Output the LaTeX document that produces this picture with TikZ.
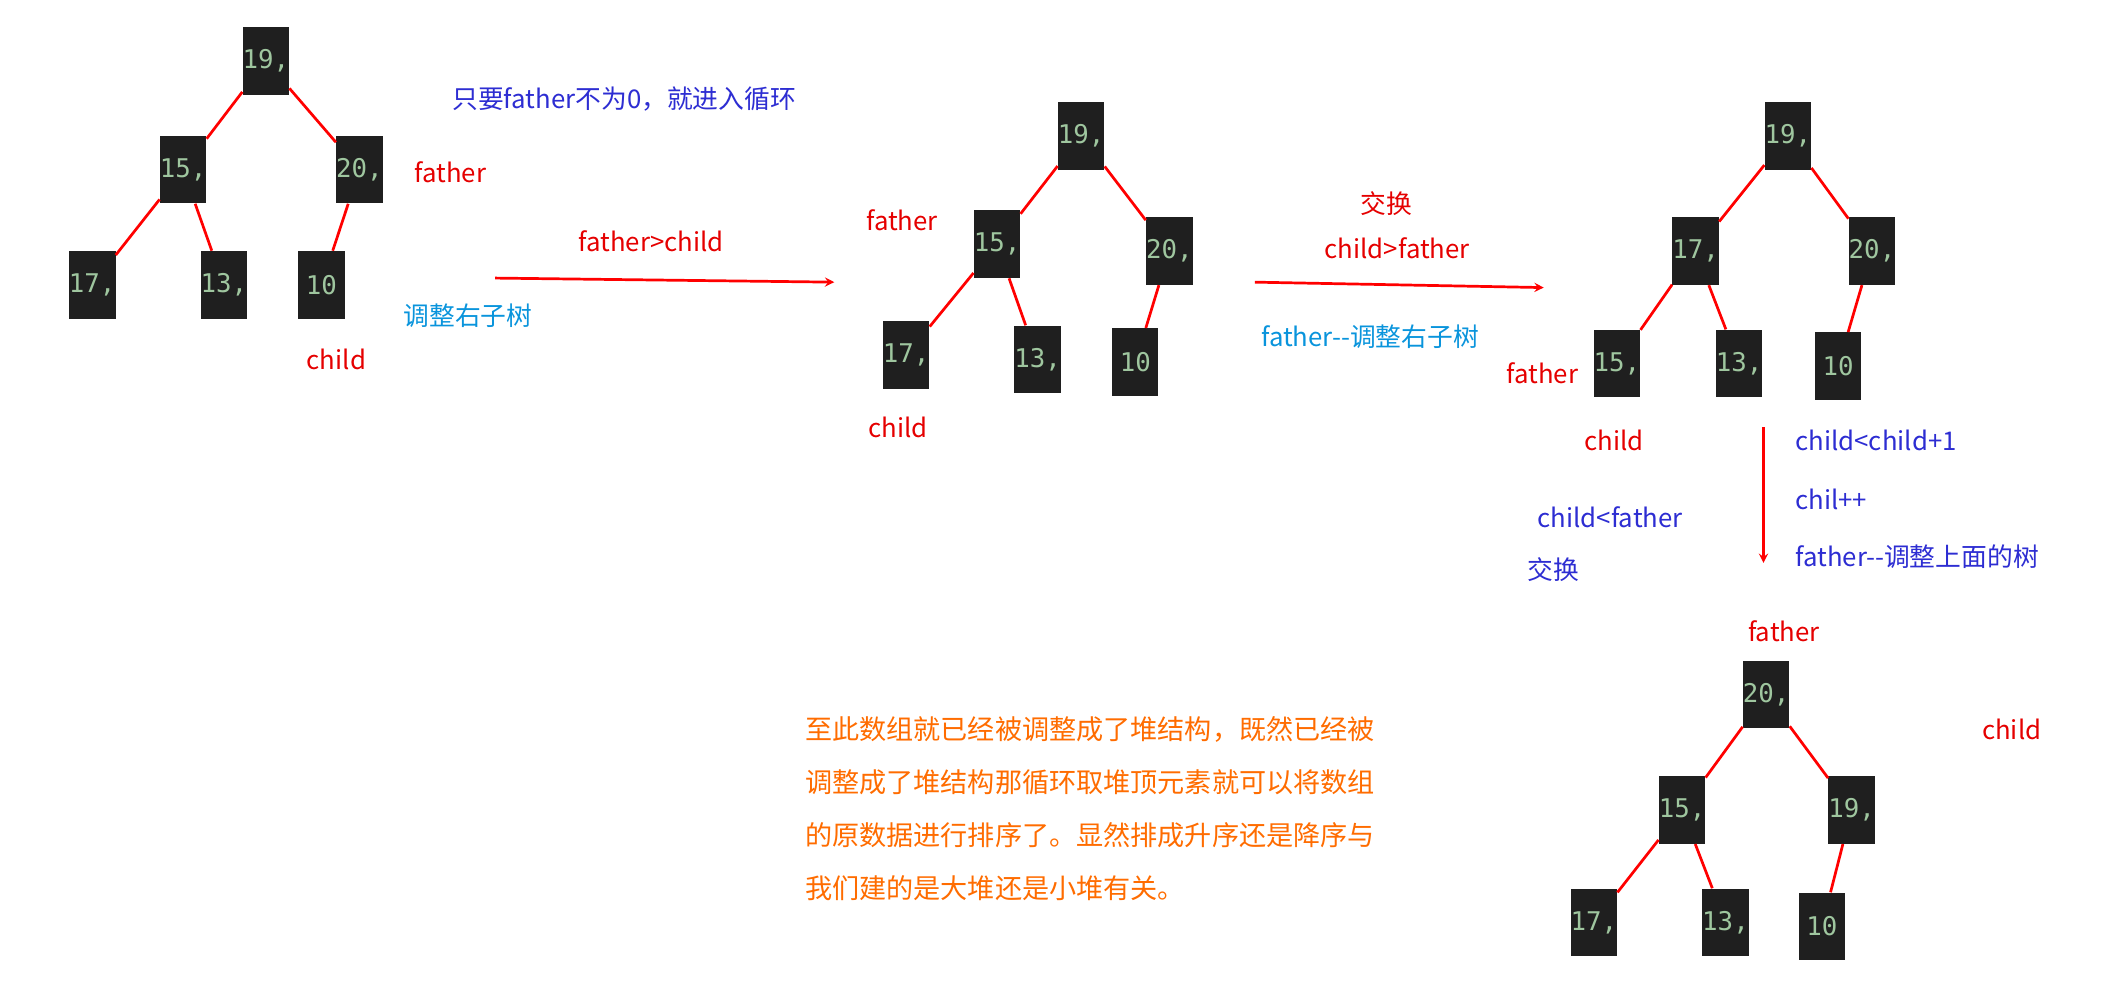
\documentclass[tikz,border=0pt]{standalone}
\usepackage{fontspec}
\setmainfont{Noto Sans CJK SC}
\newfontfamily\numf{DejaVu Sans Mono}
\begin{document}
\begin{tikzpicture}[x=1pt,y=-1pt,
 nb/.style={fill=black!88,text=green!25!gray!60!white,font=\numf\fontsize{19}{19}\selectfont,minimum width=34pt,minimum height=50pt,inner sep=0pt},
 ed/.style={red,line width=2pt},
 rl/.style={red!90!black,font=\fontsize{19}{19}\selectfont},
 bl/.style={text=blue!65!gray,font=\fontsize{19}{19}\selectfont},
 cl/.style={text=cyan!80!blue,font=\fontsize{19}{19}\selectfont},
 ar/.style={red,line width=2pt,-stealth}]
\useasboundingbox (0,0) rectangle (1568,733);
% tree 1
\node[nb] (a1) at (196,45) {19,};
\node[nb] (a2) at (135,125) {15,};
\node[nb] (a3) at (265,125) {20,};
\node[nb] (a4) at (68,210) {17,};
\node[nb] (a5) at (165,210) {13,};
\node[nb] (a6) at (237,210) {10};
\draw[ed] (a1)--(a2) (a1)--(a3) (a2)--(a4) (a2)--(a5) (a3)--(a6);
\node[rl] (t1) at (332,127) {father};
\node[rl] (t2) at (248,265) {child};
\node[cl] (t3) at (345,233) {调整右子树};
\node[bl,anchor=west] (t4) at (330,73) {只要father不为0，就进入循环};
\coordinate (p1) at (365,205); \coordinate (p2) at (615,208);
\draw[ar] (p1)--(p2);
\node[rl] (t5) at (480,178) {father>child};
% tree 2
\node[nb] (b1) at (797,100) {19,};
\node[nb] (b2) at (735,180) {15,};
\node[nb] (b3) at (862,185) {20,};
\node[nb] (b4) at (668,262) {17,};
\node[nb] (b5) at (765,265) {13,};
\node[nb] (b6) at (837,267) {10};
\draw[ed] (b1)--(b2) (b1)--(b3) (b2)--(b4) (b2)--(b5) (b3)--(b6);
\node[rl] (u1) at (665,162) {father};
\node[rl] (u2) at (662,315) {child};
\coordinate (q1) at (925,208); \coordinate (q2) at (1138,212);
\draw[ar] (q1)--(q2);
\node[rl] (u3) at (1022,150) {交换};
\node[rl] (u4) at (1030,183) {child>father};
\node[cl] (u5) at (1010,248) {father{-}{-}调整右子树};
% tree 3
\node[nb] (c1) at (1318,100) {19,};
\node[nb] (c2) at (1250,185) {17,};
\node[nb] (c3) at (1380,185) {20,};
\node[nb] (c4) at (1192,268) {15,};
\node[nb] (c5) at (1282,268) {13,};
\node[nb] (c6) at (1355,270) {10};
\draw[ed] (c1)--(c2) (c1)--(c3) (c2)--(c4) (c2)--(c5) (c3)--(c6);
\node[rl] (v1) at (1137,275) {father};
\node[rl] (v2) at (1190,325) {child};
\node[bl,anchor=west] (v3) at (1320,325) {child<child+1};
\node[bl,anchor=west] (v4) at (1320,368) {chil++};
\node[bl,anchor=west] (v5) at (1320,410) {father{-}{-}调整上面的树};
\node[bl] (v6) at (1187,381) {child<father};
\node[bl] (v7) at (1145,420) {交换};
\coordinate (r1) at (1300,315); \coordinate (r2) at (1300,415);
\draw[ar] (r1)--(r2);
% tree 4
\node[rl] (w1) at (1315,465) {father};
\node[nb] (d1) at (1302,512) {20,};
\node[nb] (d2) at (1240,597) {15,};
\node[nb] (d3) at (1365,597) {19,};
\node[nb] (d4) at (1175,680) {17,};
\node[nb] (d5) at (1272,680) {13,};
\node[nb] (d6) at (1343,683) {10};
\draw[ed] (d1)--(d2) (d1)--(d3) (d2)--(d4) (d2)--(d5) (d3)--(d6);
\node[rl] (w2) at (1483,538) {child};
\node[anchor=north west,text=orange!85!red,font=\fontsize{20}{39}\selectfont,align=left] (para) at (590,525)
 {至此数组就已经被调整成了堆结构，既然已经被\\调整成了堆结构那循环取堆顶元素就可以将数组\\的原数据进行排序了。显然排成升序还是降序与\\我们建的是大堆还是小堆有关。};
\end{tikzpicture}
\end{document}
